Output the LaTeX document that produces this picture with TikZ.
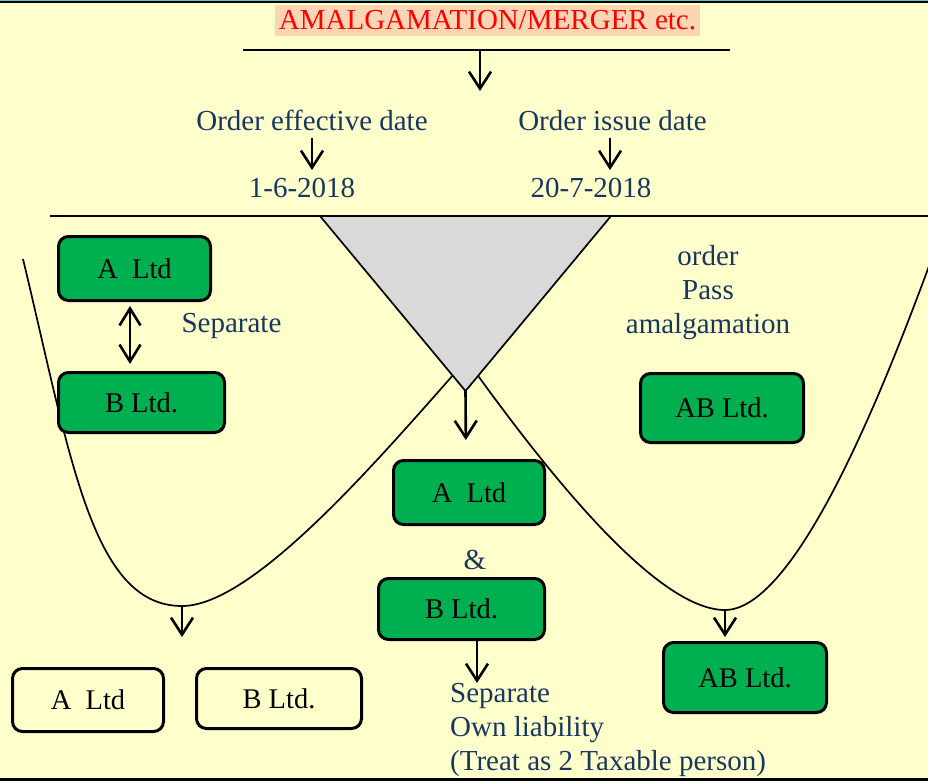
\documentclass[tikz,border=0pt]{standalone}
\usepackage{fontspec}
\setmainfont{Liberation Serif}
\usetikzlibrary{arrows.meta}

\definecolor{bgyellow}{HTML}{FFFFCC}
\definecolor{peach}{HTML}{FCD5B4}
\definecolor{titlered}{HTML}{FF0000}
\definecolor{navy}{HTML}{17375E}
\definecolor{boxgreen}{HTML}{00B050}
\definecolor{wedgegray}{HTML}{D9D9D9}
\definecolor{edgeteal}{HTML}{5CC8B8}

\newcommand\labelfont{\fontsize{29}{34}\selectfont}
\newcommand\boxfont{\fontsize{28.5}{34}\selectfont}

\tikzset{
  gbox/.style={draw=black, line width=3pt, fill=boxgreen, rounded corners=10pt,
    font=\boxfont, text=black, inner sep=0pt},
  wbox/.style={draw=black, line width=3pt, rounded corners=10pt,
    font=\boxfont, text=black, inner sep=0pt},
  lbl/.style={text=navy, font=\labelfont, inner sep=0pt},
  arr/.style={-{Straight Barb[length=17pt,width=22pt]}, line width=2.6pt},
  darr/.style={{Straight Barb[length=17pt,width=21pt]}-{Straight Barb[length=17pt,width=21pt]}, line width=2.6pt},
  rule/.style={line width=2.7pt},
  bowl/.style={line width=1.7pt},
}

\begin{document}
\begin{tikzpicture}[x=1pt,y=-1pt]
\useasboundingbox (0,0) rectangle (928,781);
\fill[bgyellow] (0,0) rectangle (928,781);

% frame edges
\fill[edgeteal] (0,0) rectangle (928,1);
\fill[black] (0,1) rectangle (928,3.5);
\fill[black] (0,777.5) rectangle (928,781);

% heading
\node[fill=peach, text=titlered, font=\labelfont, inner sep=0pt,
      minimum width=425pt, text height=24.5pt, text depth=6.5pt, anchor=base]
  (title) at (487.5,29.5) {AMALGAMATION/MERGER etc.};

\coordinate (ruleL) at (243,50);
\coordinate (ruleR) at (730,50);
\coordinate (ruleMid) at (480,50);
\coordinate (ruleDown) at (480,91);
\draw[rule] (ruleL) -- (ruleR);
\draw[arr] (ruleMid) -- (ruleDown);

% dates
\node[lbl, anchor=base] (effTxt) at (312,131) {Order effective date};
\node[lbl, anchor=base] (issTxt) at (612.5,131) {Order issue date};
\node[lbl, anchor=base] (date1) at (302,197.5) {1-6-2018};
\node[lbl, anchor=base] (date2) at (591,197.5) {20-7-2018};
\draw[arr, shorten <=7pt, shorten >=8pt] (effTxt.south) -- (effTxt.south |- date1.north);
\draw[arr, shorten <=7pt, shorten >=8pt] ([xshift=-2.5pt]issTxt.south) -- ([xshift=-2.5pt]issTxt.south |- date2.north);

% timeline
\coordinate (lineL) at (50,216);
\coordinate (lineR) at (928,216);

% the two bowls
\begin{scope}
\clip (0,0) rectangle (928,781);
\draw[bowl] (23,259) .. controls (71,459) and (92,606) .. (182,606)
            .. controls (252,606) and (373,466) .. (461,366);
\draw[bowl] (471,366) .. controls (543,466) and (655,610) .. (725,610)
            .. controls (805,610) and (905,330) .. (935,250);
\end{scope}

\draw[rule] (lineL) -- (lineR);

% wedge between the two dates
\coordinate (wedgeL) at (320,216);
\coordinate (wedgeR) at (611,216);
\coordinate (apex) at (465.5,391);
\draw[fill=wedgegray, line width=1.7pt, line join=miter] (wedgeL) -- (wedgeR) -- (apex) -- cycle;

% left side: before the effective date
\node[gbox, minimum width=152pt, minimum height=64pt] (aTop) at (134.5,268.5) {A\ \ Ltd};
\node[gbox, minimum width=166pt, minimum height=60pt] (bLeft) at (141.5,402.5) {B Ltd.};
\draw[darr, shorten <=4pt, shorten >=7pt] ([xshift=-4.5pt]aTop.south) -- ([xshift=-11.5pt]bLeft.north);
\node[lbl, anchor=base] (sepL) at (231.5,332) {Separate};

% middle: between the two dates
\node[gbox, minimum width=151pt, minimum height=64pt] (aMid) at (469,492.5) {A\ \ Ltd};
\draw[arr, shorten >=19pt] (apex) -- ([xshift=-3pt]aMid.north);
\node[lbl, anchor=base] (amp) at (475,569) {\&};
\node[gbox, minimum width=166pt, minimum height=61pt] (bMid) at (461.5,609) {B Ltd.};
\node[lbl, anchor=north west, align=left] (sepTxt) at (450,683.4)
  {Separate\\Own liability\\(Treat as 2 Taxable person)};
\coordinate (sepTop) at (477,683);
\draw[arr] ([xshift=15.5pt]bMid.south) -- (sepTop);

% right side: after the order
\node[lbl, anchor=north, align=center] (passTxt) at (708,245.2)
  {order\\Pass\\amalgamation};
\node[gbox, minimum width=163pt, minimum height=69pt] (abTop) at (722,408) {AB Ltd.};

% bottoms of the bowls
\coordinate (lbBot) at (182,606);
\coordinate (lbTip) at (182,637);
\coordinate (rbBot) at (725,610);
\coordinate (rbTip) at (725,637);
\draw[arr] (lbBot) -- (lbTip);
\draw[arr] (rbBot) -- (rbTip);

\node[wbox, minimum width=151pt, minimum height=63pt] (aBot) at (88,700) {A\ \ Ltd};
\node[wbox, minimum width=165pt, minimum height=60pt] (bBot) at (279,698.5) {B Ltd.};
\node[gbox, minimum width=163pt, minimum height=70pt] (abBot) at (745,677.5) {AB Ltd.};
\end{tikzpicture}
\end{document}
